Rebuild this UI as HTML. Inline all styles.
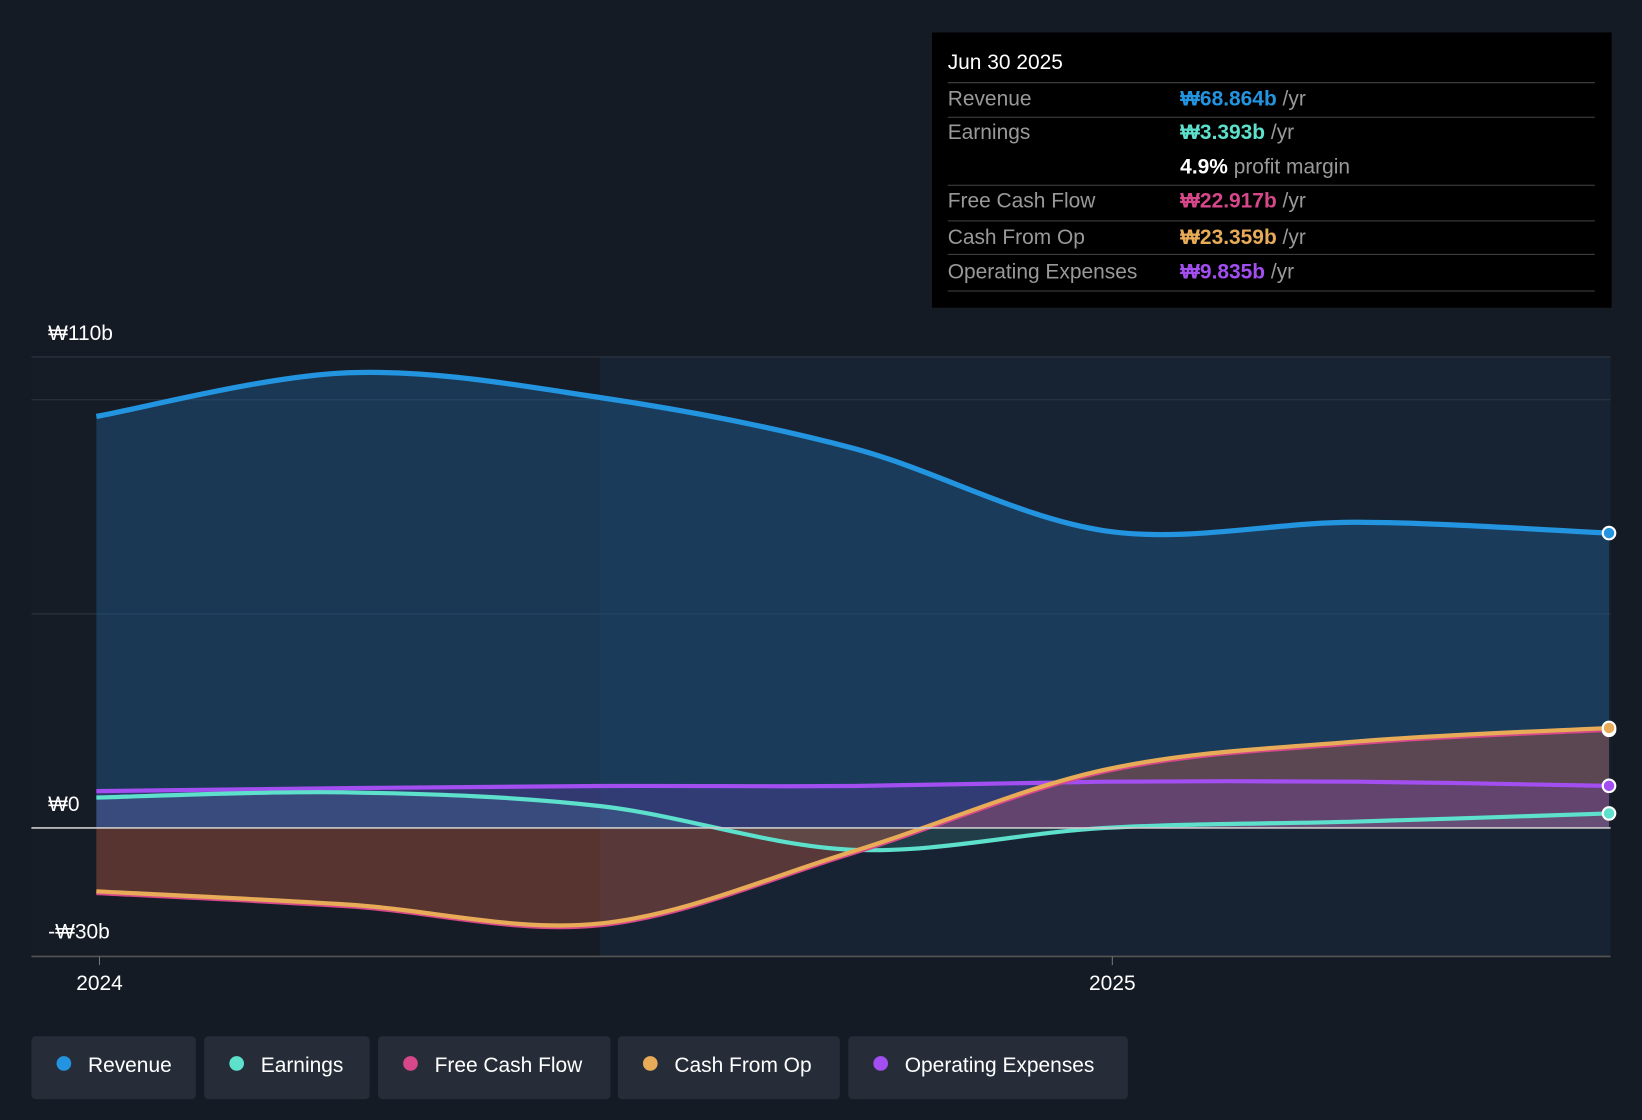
<!DOCTYPE html>
<html><head><meta charset="utf-8"><style>
html,body{margin:0;padding:0;background:#151b24;}
svg{display:block;font-family:"Liberation Sans","Noto Sans CJK KR",sans-serif;}
</style></head><body>
<svg id="chart" width="1642" height="1120" viewBox="0 0 1568 1070" preserveAspectRatio="none" xmlns="http://www.w3.org/2000/svg">
<rect x="0" y="0" width="1568" height="1070" fill="#151b24"/>
<rect x="573" y="341" width="965" height="573" fill="#172332"/>
<rect x="30" y="341" width="543" height="573" fill="#161c25"/>
<g id="grid"></g>
<g id="areas"></g>
<g id="lines"></g>
<g id="axis"></g>
<g>
<rect x="890" y="31" width="649" height="263" fill="#000"/>
<text x="905" y="66" fill="#fff" font-size="20">Jun 30 2025</text>
<line x1="905" y1="79" x2="1523" y2="79" stroke="#444"/>
<text x="905" y="101" fill="#999" font-size="20">Revenue</text>
<text x="1127" y="101" font-size="20"><tspan fill="#2394df" font-weight="bold">₩68.864b</tspan><tspan fill="#999"> /yr</tspan></text>
<line x1="905" y1="112" x2="1523" y2="112" stroke="#444"/>
<text x="905" y="133" fill="#999" font-size="20">Earnings</text>
<text x="1127" y="133" font-size="20"><tspan fill="#5de0cc" font-weight="bold">₩3.393b</tspan><tspan fill="#999"> /yr</tspan></text>
<text x="1127" y="166" font-size="20"><tspan fill="#fff" font-weight="bold">4.9%</tspan><tspan fill="#999"> profit margin</tspan></text>
<line x1="905" y1="177" x2="1523" y2="177" stroke="#444"/>
<text x="905" y="198" fill="#999" font-size="20">Free Cash Flow</text>
<text x="1127" y="198" font-size="20"><tspan fill="#d6488a" font-weight="bold">₩22.917b</tspan><tspan fill="#999"> /yr</tspan></text>
<line x1="905" y1="211" x2="1523" y2="211" stroke="#444"/>
<text x="905" y="233" fill="#999" font-size="20">Cash From Op</text>
<text x="1127" y="233" font-size="20"><tspan fill="#e8ac58" font-weight="bold">₩23.359b</tspan><tspan fill="#999"> /yr</tspan></text>
<line x1="905" y1="243" x2="1523" y2="243" stroke="#444"/>
<text x="905" y="266" fill="#999" font-size="20">Operating Expenses</text>
<text x="1127" y="266" font-size="20"><tspan fill="#a24ef0" font-weight="bold">₩9.835b</tspan><tspan fill="#999"> /yr</tspan></text>
<line x1="905" y1="278" x2="1523" y2="278" stroke="#444"/>
</g>
<g id="legend"></g>
</svg>
<script>
const months=[0,3,6,9,12,15,18];
const revenue=[96.1,106.3,100.5,88.7,69.4,71.4,68.864];
const earnings=[7.1,8.3,5.1,-5.1,0,1.5,3.393];
const fcf=[-15.2,-18.3,-22.7,-5.9,13.2,19.8,22.917];
const cfo=[-14.8,-17.9,-22.3,-5.5,13.6,20.2,23.359];
const opex=[8.6,9.3,9.8,9.8,10.8,10.8,9.835];
const yTicks=[110,0,-30];
const yTickLabels=["₩110b","₩0","-₩30b"];
const gridVals=[110,100,50];
const xTicks=[0,12];
const xTickLabels=["2024","2025"];
const seriesNames=["Revenue","Earnings","Free Cash Flow","Cash From Op","Operating Expenses"];
const colors=["#2394df","#5de0cc","#d6488a","#e8ac58","#a24ef0"];
const NS="http://www.w3.org/2000/svg";
const X=m=>92+(m)*80.25;
const Y=v=>791-v*4.0909;
function el(t,a,p){const e=document.createElementNS(NS,t);for(const k in a)e.setAttribute(k,a[k]);p.appendChild(e);return e;}
function path(vals){const p=months.map((m,i)=>[X(m),Y(vals[i])]);let d=`M${p[0][0]},${p[0][1]}`;
for(let i=0;i<p.length-1;i++){const p0=p[i-1]||p[i],p1=p[i],p2=p[i+1],p3=p[i+2]||p2;
const c1=[p1[0]+(p2[0]-p0[0])/6,p1[1]+(p2[1]-p0[1])/6],c2=[p2[0]-(p3[0]-p1[0])/6,p2[1]-(p3[1]-p1[1])/6];
d+=` C${c1[0]},${c1[1]} ${c2[0]},${c2[1]} ${p2[0]},${p2[1]}`;}return d;}
const grid=document.getElementById('grid'),areas=document.getElementById('areas'),lines=document.getElementById('lines'),axis=document.getElementById('axis'),legend=document.getElementById('legend');
gridVals.forEach(v=>{const l=el('line',{x1:30,x2:1538,y1:Y(v),y2:Y(v),stroke:'#2c3744','stroke-width':1},grid);

});
const data=[revenue,earnings,fcf,cfo,opex];
const fills=["rgba(30,90,140,0.45)","rgba(93,224,204,0.15)","rgba(160,40,60,0.3)","rgba(232,172,88,0.15)","rgba(120,60,200,0.25)"];
data.forEach((vals,i)=>{const d=path(vals)+` L${X(months[months.length-1])},${Y(0)} L${X(0)},${Y(0)} Z`;
const a=el('path',{d,fill:fills[i]},areas);

});
[0,4,1,2,3].forEach(i=>{const l=el('path',{d:path(data[i]),fill:'none',stroke:colors[i],'stroke-width':i==0?5:4},lines);


const n=data[i].length-1;
const c=el('circle',{cx:X(months[n]),cy:Y(data[i][n]),r:6,fill:colors[i],stroke:'#fff','stroke-width':2},lines);

});
const z=el('line',{x1:30,x2:1538,y1:Y(0),y2:Y(0),stroke:'#ccc','stroke-width':1.5},axis);


const b=el('line',{x1:30,x2:1538,y1:Y(-30),y2:Y(-30),stroke:'#555','stroke-width':1.5},axis);


yTicks.forEach((v,i)=>{const t=el('text',{x:46,y:Y(v)-16,fill:'#fff','font-size':20},axis);t.textContent=yTickLabels[i];
if(v===-30)t.setAttribute('y',Y(v)-17);

});
xTicks.forEach((m,i)=>{const x=95+m*80.6;el('line',{x1:x,x2:x,y1:914,y2:922,stroke:'#777'},axis);
const t=el('text',{x,y:946,fill:'#fff','font-size':20,'text-anchor':'middle'},axis);t.textContent=xTickLabels[i];

});
const lx=[30,195,361,590,810],lw=[157,158,222,212,267];
seriesNames.forEach((n,i)=>{const g=el('g',{},legend);


el('rect',{x:lx[i],y:990,width:lw[i],height:60,rx:4,fill:'#262d38'},g);
el('circle',{cx:lx[i]+31,cy:1016,r:7,fill:colors[i]},g);
const t=el('text',{x:lx[i]+54,y:1024,fill:'#fff','font-size':20},g);t.textContent=n;});
</script>
</body></html>
